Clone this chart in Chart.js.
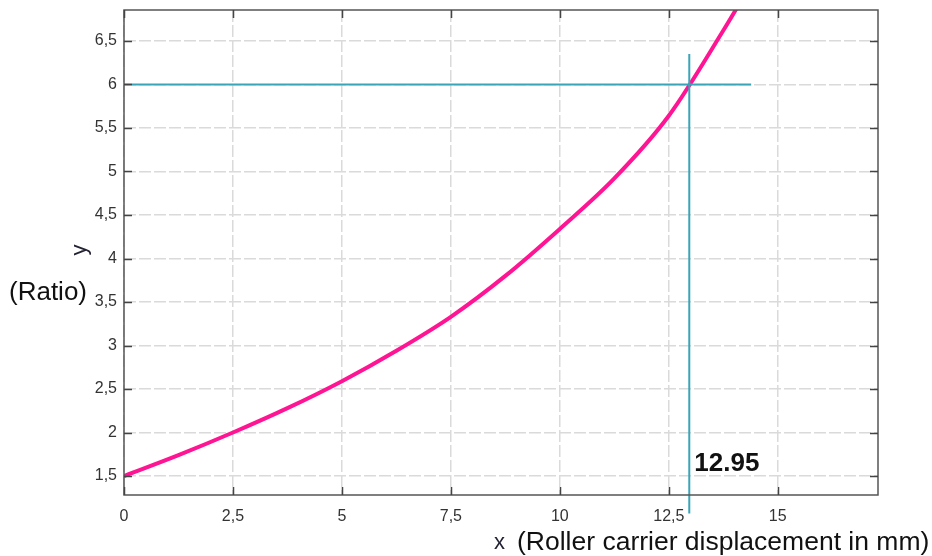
<!DOCTYPE html>
<html>
<head>
<meta charset="utf-8">
<script src="https://cdn.jsdelivr.net/npm/chart.js@4/dist/chart.umd.min.js"></script>
<style>
  html, body { margin: 0; padding: 0; background: #fff; }
  #wrap { width: 932px; height: 556px; }
</style>
</head>
<body>
<div id="wrap"><canvas id="c" width="932" height="556"></canvas></div>
<script>
// Curve (x in mm, y = ratio)
const curveX = [0, 1.25, 2.5, 3.75, 5, 6.25, 7.5, 8.75, 10, 11.25, 12.5, 13.75, 14.5];
const curveY = [1.5, 1.74, 2.0, 2.28, 2.59, 2.94, 3.33, 3.80, 4.34, 4.92, 5.64, 6.62, 7.25];

// Reference (read-off) lines
const hLineX = [0, 14.39];
const hLineY = [6, 6];
const vLineX = [12.97, 12.97];
const vLineY = [6.35, 1.07];
const markLabel = "12.95";

// Axes
const xMin = 0, xMax = 17.3, xStep = 2.5;
const yMin = 1.282, yMax = 6.856, yStep = 0.5;

const toPts = (xs, ys) => xs.map((x, i) => ({ x: x, y: ys[i] }));
const comma = v => String(Math.round(v * 100) / 100).replace('.', ',');

const frame = {
  id: 'frame',
  beforeDraw(chart) {
    const ctx = chart.ctx;
    ctx.save();
    ctx.fillStyle = '#fff';
    ctx.fillRect(0, 0, chart.width, chart.height);
    ctx.restore();
  },
  afterDraw(chart) {
    const ctx = chart.ctx;
    const a = chart.chartArea;
    const xs = chart.scales.x, ys = chart.scales.y;
    ctx.save();
    // border
    ctx.strokeStyle = '#555';
    ctx.lineWidth = 1.5;
    ctx.strokeRect(a.left, a.top, a.right - a.left, a.bottom - a.top);
    // inward ticks
    ctx.strokeStyle = '#444';
    ctx.lineWidth = 1.5;
    const L = 8;
    ctx.beginPath();
    xs.ticks.forEach(t => {
      const p = Math.round(xs.getPixelForValue(t.value)) + 0.5;
      ctx.moveTo(p, a.bottom); ctx.lineTo(p, a.bottom - L);
      ctx.moveTo(p, a.top); ctx.lineTo(p, a.top + L);
    });
    ys.ticks.forEach(t => {
      const p = Math.round(ys.getPixelForValue(t.value)) + 0.5;
      ctx.moveTo(a.left, p); ctx.lineTo(a.left + L, p);
      ctx.moveTo(a.right, p); ctx.lineTo(a.right - L, p);
    });
    ctx.stroke();

    // texts
    ctx.fillStyle = '#111';
    ctx.textBaseline = 'alphabetic';
    ctx.font = 'bold 26px "Liberation Sans", Arial, sans-serif';
    ctx.textAlign = 'left';
    ctx.fillText(markLabel, xs.getPixelForValue(vLineX[0]) + 5, 471);

    ctx.font = '26.5px "Liberation Sans", Arial, sans-serif';
    ctx.fillStyle = '#111';
    ctx.fillText('(Roller carrier displacement in mm)', 517, 550);
    ctx.font = '22px "Liberation Sans", Arial, sans-serif';
    ctx.fillStyle = '#223';
    ctx.fillText('x', 494, 549);

    ctx.font = '26px "Liberation Sans", Arial, sans-serif';
    ctx.fillStyle = '#111';
    ctx.fillText('(Ratio)', 9, 300);

    ctx.save();
    ctx.translate(86, 250);
    ctx.rotate(-Math.PI / 2);
    ctx.font = '22px "Liberation Sans", Arial, sans-serif';
    ctx.fillStyle = '#223';
    ctx.textAlign = 'center';
    ctx.fillText('y', 0, 0);
    ctx.restore();

    ctx.restore();
  }
};

const gridCommon = {
  color: '#dadada',
  lineWidth: 1.5,
  drawTicks: false
};

new Chart(document.getElementById('c'), {
  type: 'scatter',
  data: {
    datasets: [
      {
        data: toPts(hLineX, hLineY),
        showLine: true, borderColor: '#3aa5b8', borderWidth: 2,
        pointRadius: 0, tension: 0
      },
      {
        data: toPts(vLineX, vLineY),
        showLine: true, borderColor: '#3aa5b8', borderWidth: 2,
        pointRadius: 0, tension: 0, clip: false
      },
      {
        data: toPts(curveX, curveY),
        showLine: true, borderColor: '#ff1493', borderWidth: 4,
        pointRadius: 0, cubicInterpolationMode: 'monotone'
      }
    ]
  },
  options: {
    responsive: false,
    animation: false,
    events: [],
    layout: { padding: { top: 10, right: 54, left: 0, bottom: 0 } },
    plugins: { legend: { display: false }, tooltip: { enabled: false } },
    scales: {
      x: {
        type: 'linear', min: xMin, max: xMax,
        border: { display: false, dash: [12, 3] },
        grid: gridCommon,
        ticks: {
          stepSize: xStep, includeBounds: false, padding: 12,
          color: '#333', font: { family: '"Liberation Sans", Arial, sans-serif', size: 16 },
          callback: v => comma(v), maxRotation: 0
        },
        afterFit: s => { s.height = 61; s.paddingLeft = 0; s.paddingRight = 0; }
      },
      y: {
        type: 'linear', min: yMin, max: yMax,
        border: { display: false, dash: [12, 3] },
        grid: gridCommon,
        ticks: {
          stepSize: yStep, includeBounds: false, padding: 7,
          color: '#333', font: { family: '"Liberation Sans", Arial, sans-serif', size: 16 },
          callback: v => comma(v)
        },
        afterFit: s => { s.width = 124; s.paddingTop = 0; s.paddingBottom = 0; }
      }
    }
  },
  plugins: [frame]
});
</script>
</body>
</html>
